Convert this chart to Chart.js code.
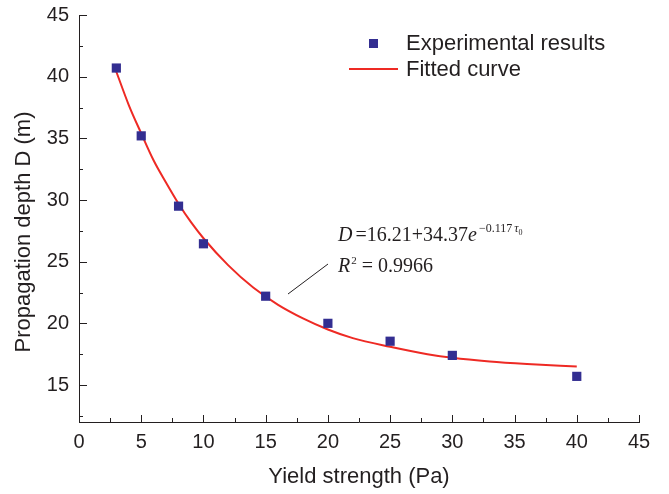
<!DOCTYPE html>
<html>
<head>
<meta charset="utf-8">
<script src="https://cdn.jsdelivr.net/npm/chart.js@4"></script>
<style>
  html, body { margin: 0; padding: 0; background: #fff; }
  #wrap { width: 669px; height: 494px; position: relative; }
</style>
</head>
<body>
<div id="wrap"><canvas id="chart" width="669" height="494"></canvas></div>
<script>
/* DATA */
const expX = [3, 5, 8, 10, 15, 20, 25, 30, 40];
const expY = [40.7, 35.2, 29.5, 26.45, 22.2, 20.0, 18.55, 17.4, 15.7];

// fitted curve
const fitX = [3, 4, 5, 6, 7, 8, 9, 10, 12, 14, 16, 18, 20, 22, 25, 28, 30, 33, 36, 40];
const fitY = [40.4, 37.7, 35.4, 33.2, 31.4, 29.7, 28.2, 26.9, 24.7, 22.9, 21.5, 20.4, 19.5, 18.8, 18.1, 17.5, 17.2, 16.9, 16.7, 16.5];

const xTicks = [0, 5, 10, 15, 20, 25, 30, 35, 40, 45];
const yTicks = [15, 20, 25, 30, 35, 40, 45];

const seriesNames = ["Experimental results", "Fitted curve"];
const xTitle = "Yield strength (Pa)";
const yTitle = "Propagation depth D (m)";

const BLUE = "#332e91";
const RED = "#ee2a24";
const INK = "#231f20";
const SANS = "'Liberation Sans', Arial, sans-serif";
const SERIF = "'Liberation Serif', 'Times New Roman', serif";

/* inward ticks, y title, legend and fit label */
const extras = {
  id: "extras",
  afterDraw(c) {
    const ctx = c.ctx;
    const x = c.scales.x, y = c.scales.y;
    const area = c.chartArea;
    ctx.save();
    ctx.strokeStyle = INK;
    ctx.lineWidth = 1;

    // x ticks (up)
    for (let v = 0; v <= 45; v += 2.5) {
      const px = Math.round(x.getPixelForValue(v)) + 0.5;
      const len = v % 5 === 0 ? 7 : 4;
      ctx.beginPath();
      ctx.moveTo(px, area.bottom);
      ctx.lineTo(px, area.bottom - len);
      ctx.stroke();
    }
    // y ticks (right)
    for (let v = 12.5; v <= 45; v += 2.5) {
      const py = Math.round(y.getPixelForValue(v)) + 0.5;
      const len = v % 5 === 0 ? 8 : 4;
      ctx.beginPath();
      ctx.moveTo(area.left, py);
      ctx.lineTo(area.left + len, py);
      ctx.stroke();
    }

    // y title
    ctx.fillStyle = INK;
    ctx.font = "22px " + SANS;
    ctx.textAlign = "center";
    ctx.textBaseline = "middle";
    ctx.translate(24, 232);
    ctx.rotate(-Math.PI / 2);
    ctx.fillText(yTitle, 0, 0);
    ctx.setTransform(1, 0, 0, 1, 0, 0);
    ctx.textAlign = "left";

    // legend
    ctx.fillStyle = BLUE;
    ctx.fillRect(369, 39, 9, 9);
    ctx.strokeStyle = RED;
    ctx.lineWidth = 2;
    ctx.beginPath();
    ctx.moveTo(349, 69);
    ctx.lineTo(398, 69);
    ctx.stroke();
    ctx.fillStyle = INK;
    ctx.font = "22px " + SANS;
    ctx.fillText(seriesNames[0], 406, 44);
    ctx.fillText(seriesNames[1], 406, 70);

    // fit equation
    ctx.textBaseline = "alphabetic";
    let tx = 338;
    ctx.font = "italic 20px " + SERIF;
    ctx.fillText("D", tx, 241);
    tx += ctx.measureText("D").width + 3;
    ctx.font = "20px " + SERIF;
    ctx.fillText("=16.21+34.37", tx, 241);
    tx += ctx.measureText("=16.21+34.37").width;
    ctx.font = "italic 20px " + SERIF;
    ctx.fillText("e", tx, 241);
    tx += ctx.measureText("e").width + 2;
    ctx.font = "12px " + SERIF;
    ctx.fillText("\u22120.117", tx, 232);
    tx += ctx.measureText("\u22120.117").width + 2;
    ctx.font = "italic 12px " + SERIF;
    ctx.fillText("\u03c4", tx, 232);
    tx += ctx.measureText("\u03c4").width;
    ctx.font = "8px " + SERIF;
    ctx.fillText("0", tx, 235);

    ctx.font = "italic 20px " + SERIF;
    ctx.fillText("R", 338, 272);
    let rx = 338 + ctx.measureText("R").width + 1;
    ctx.font = "11px " + SERIF;
    ctx.fillText("2", rx, 264);
    rx += ctx.measureText("2").width + 5;
    ctx.font = "20px " + SERIF;
    ctx.fillText("= 0.9966", rx, 272);

    ctx.strokeStyle = INK;
    ctx.lineWidth = 1;
    ctx.beginPath();
    ctx.moveTo(288, 294);
    ctx.lineTo(328, 264);
    ctx.stroke();
    ctx.restore();
  }
};

const ctx = document.getElementById("chart").getContext("2d");

new Chart(ctx, {
  type: "scatter",
  data: {
    datasets: [
      {
        label: seriesNames[0],
        data: expX.map((v, i) => ({ x: v, y: expY[i] })),
        pointStyle: "rect",
        pointRadius: 6.5,
        backgroundColor: BLUE,
        borderColor: BLUE,
        borderWidth: 0,
        order: 0
      },
      {
        label: seriesNames[1],
        data: fitX.map((v, i) => ({ x: v, y: fitY[i] })),
        showLine: true,
        pointRadius: 0,
        borderColor: RED,
        borderWidth: 2,
        cubicInterpolationMode: "monotone",
        order: 1
      }
    ]
  },
  options: {
    responsive: false,
    animation: false,
    devicePixelRatio: 1,
    layout: { padding: { top: 15, right: 30, left: 0, bottom: 0 } },
    plugins: {
      legend: { display: false },
      tooltip: { enabled: false }
    },
    scales: {
      x: {
        type: "linear",
        min: 0,
        max: 45,
        afterBuildTicks: s => { s.ticks = xTicks.map(v => ({ value: v })); },
        afterFit: s => { s.height = 72; s.paddingLeft = 0; s.paddingRight = 0; },
        grid: { display: false, drawTicks: false },
        border: { display: true, color: INK, width: 1 },
        ticks: { color: INK, padding: 8, font: { family: SANS, size: 20 } },
        title: { display: true, text: xTitle, color: INK, padding: { top: 6 }, font: { family: SANS, size: 22 } }
      },
      y: {
        type: "linear",
        min: 12,
        max: 45,
        afterBuildTicks: s => { s.ticks = yTicks.map(v => ({ value: v })); },
        afterFit: s => { s.width = 79; s.paddingTop = 0; s.paddingBottom = 0; },
        grid: { display: false, drawTicks: false },
        border: { display: true, color: INK, width: 1 },
        ticks: { color: INK, padding: 10, font: { family: SANS, size: 20 } },
        title: { display: false }
      }
    }
  },
  plugins: [extras]
});
</script>
</body>
</html>
